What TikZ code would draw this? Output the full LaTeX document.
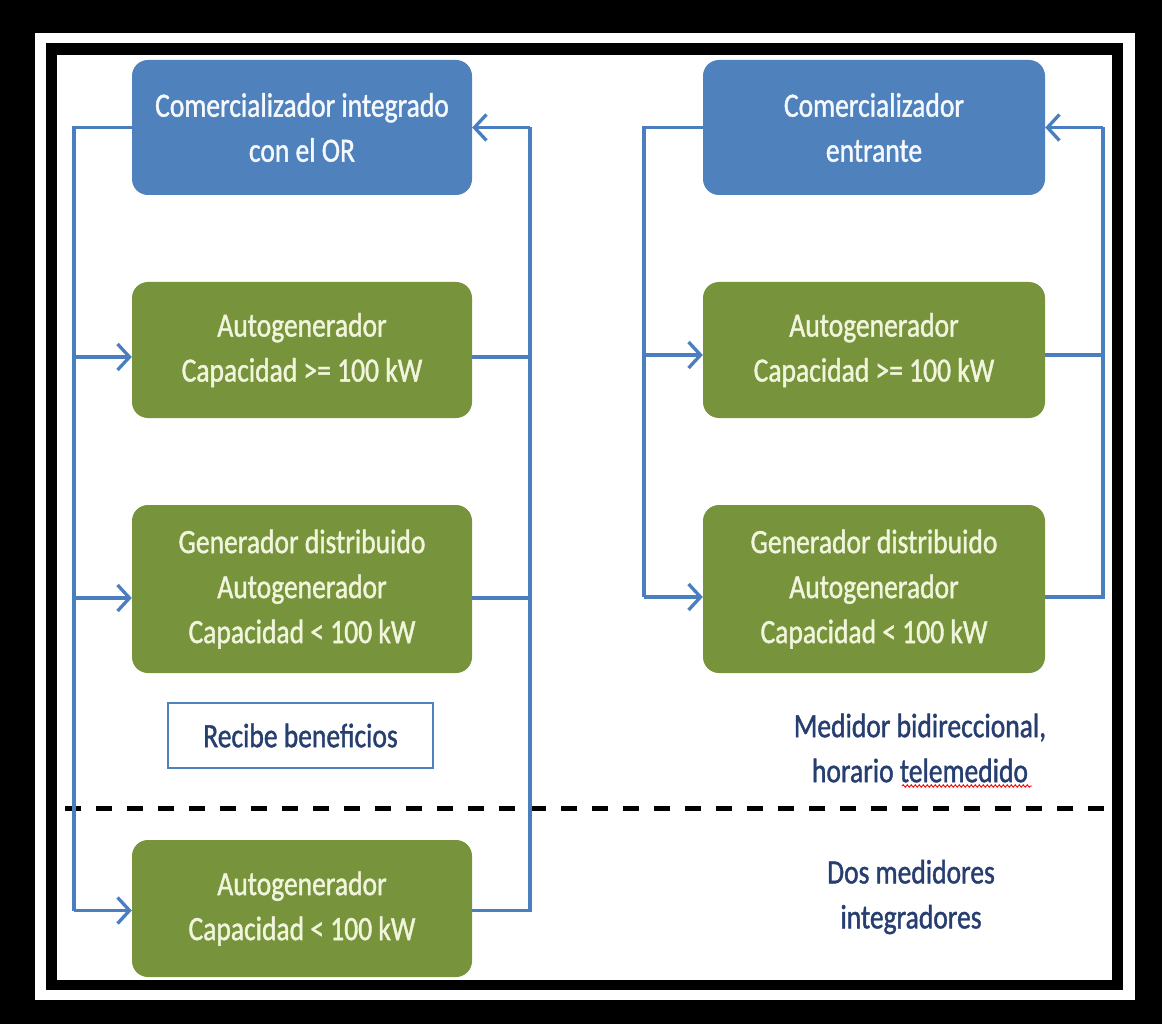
\documentclass[tikz,border=0pt]{standalone}
\usepackage{fontspec}
\setmainfont[FakeStretch=0.81,FakeBold=1.2]{Carlito}
\usetikzlibrary{arrows.meta,decorations.pathmorphing}
\definecolor{boxblue}{RGB}{79,129,189}
\definecolor{boxgreen}{RGB}{119,147,60}
\definecolor{linkblue}{RGB}{74,126,190}
\definecolor{labelblue}{RGB}{38,62,112}
\definecolor{greentext}{RGB}{240,245,220}
\definecolor{bluetext}{RGB}{245,248,252}
\tikzset{
  boxbase/.style={rounded corners=16pt, inner sep=0pt, align=center,
    font=\fontsize{34}{45}\selectfont},
  bluebox/.style={boxbase, fill=boxblue, text=bluetext},
  greenbox/.style={boxbase, fill=boxgreen, text=greentext},
  conn/.style={draw=linkblue, line width=3.3pt},
  arr/.style={conn, -{Straight Barb[length=12pt,width=26pt]}},
  label/.style={align=center, text=labelblue, inner sep=0pt,
    font=\fontsize{34}{45}\selectfont},
}
\begin{document}
\begin{tikzpicture}[x=1pt,y=-1pt]
\useasboundingbox (0,0) rectangle (1162,1024);
% frame
\fill[black] (0,0) rectangle (1162,1024);
\fill[white] (35,33) rectangle (1135,1000);
\fill[black] (46,43) rectangle (1123,990);
\fill[white] (57,55) rectangle (1112,980);

% left column
\node[bluebox, minimum width=340pt, minimum height=135pt] (b1) at (302,127.5)
  {Comercializador integrado\\con el OR};
\node[greenbox, minimum width=340pt, minimum height=136pt] (g1) at (302,350)
  {Autogenerador\\Capacidad >= 100 kW};
\node[greenbox, minimum width=340pt, minimum height=168pt] (g2) at (302,589)
  {Generador distribuido\\Autogenerador\\Capacidad < 100 kW};
\node[greenbox, minimum width=340pt, minimum height=137pt] (g3) at (302,908.5)
  {Autogenerador\\Capacidad < 100 kW};
\node[draw=boxblue, line width=2.5pt, fill=white, minimum width=265pt,
  minimum height=65pt, label, text=labelblue] (rb) at (300.5,735.5) {Recibe beneficios};

% right column
\node[bluebox, minimum width=342pt, minimum height=135pt] (c1) at (874,127.5)
  {Comercializador\\entrante};
\node[greenbox, minimum width=342pt, minimum height=136pt] (g4) at (874,350)
  {Autogenerador\\Capacidad >= 100 kW};
\node[greenbox, minimum width=342pt, minimum height=168pt] (g5) at (874,589)
  {Generador distribuido\\Autogenerador\\Capacidad < 100 kW};

\node[label] (med) at (920,748) {Medidor bidireccional,\\horario telemedido};
\node[label] (dos) at (911,897) {Dos medidores\\integradores};

% spell-check underline
\coordinate (ul1) at (902,786);
\coordinate (ul2) at (1032,786);
\draw[red, line width=0.9pt, decorate, decoration={snake, amplitude=1.2pt, segment length=4pt}] (ul1) -- (ul2);

% dashed separator
\coordinate (dl) at (65,808);
\coordinate (dr) at (1112,808);
\draw[black, line width=5pt, dash pattern=on 16pt off 15pt] (dl) -- (dr);

% buses
\coordinate (lbus) at (74,0);
\coordinate (rbus) at (530,0);
\coordinate (lbus2) at (644,0);
\coordinate (rbus2) at (1103,0);

% left column connectors
\draw[conn] (b1.west) -- (b1.west -| lbus) -- ([yshift=-2pt]g3.west -| lbus);
\draw[arr] ([yshift=-7pt]g1.west -| lbus) -- ([yshift=-7pt]g1.west);
\draw[arr] ([yshift=-9pt]g2.west -| lbus) -- ([yshift=-9pt]g2.west);
\draw[arr] ([yshift=-2pt]g3.west -| lbus) -- ([yshift=-2pt]g3.west);
\draw[conn] ([yshift=-2pt]g3.east) -- ([yshift=-2pt]g3.east -| rbus) -- (b1.east -| rbus);
\draw[conn] ([yshift=-7pt]g1.east) -- ([yshift=-7pt]g1.east -| rbus);
\draw[conn] ([yshift=-9pt]g2.east) -- ([yshift=-9pt]g2.east -| rbus);
\draw[arr] (b1.east -| rbus) -- (b1.east);

% right column connectors
\draw[conn] (c1.west) -- (c1.west -| lbus2) -- ([yshift=-8pt]g5.west -| lbus2);
\draw[arr] ([yshift=-5pt]g4.west -| lbus2) -- ([yshift=-5pt]g4.west);
\draw[arr] ([yshift=-8pt]g5.west -| lbus2) -- ([yshift=-8pt]g5.west);
\draw[conn] ([yshift=-8pt]g5.east) -- ([yshift=-8pt]g5.east -| rbus2) -- (c1.east -| rbus2);
\draw[conn] ([yshift=-5pt]g4.east) -- ([yshift=-5pt]g4.east -| rbus2);
\draw[arr] (c1.east -| rbus2) -- (c1.east);
\end{tikzpicture}
\end{document}
